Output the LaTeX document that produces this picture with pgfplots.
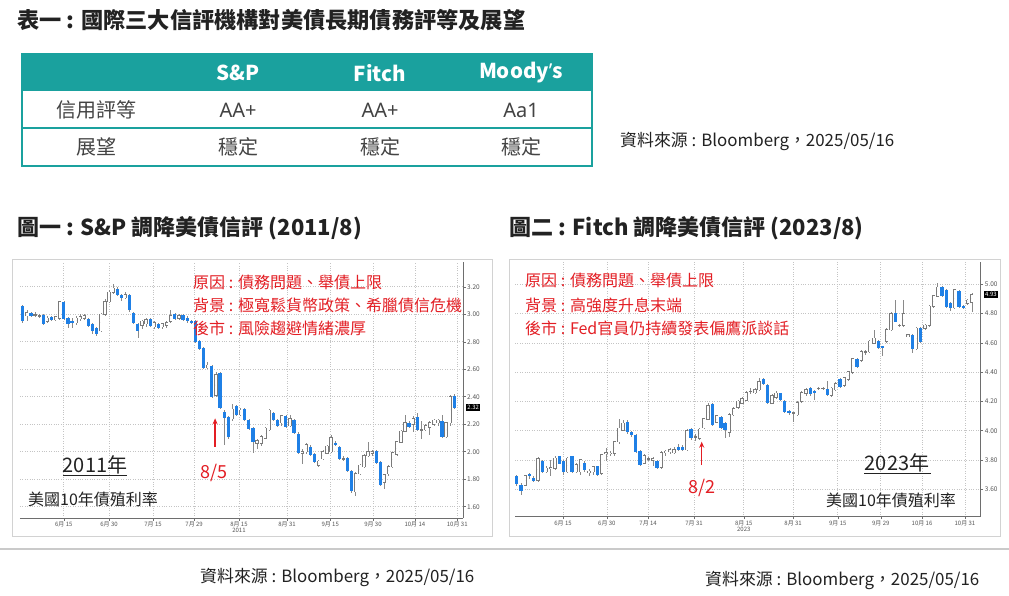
\documentclass[border=0pt]{standalone}
\usepackage{fontspec}
\setmainfont{Noto Sans CJK TC}
\newfontfamily\lat{Noto Sans}
\usepackage{pgfplots}
\usepackage{pgfplotstable}
\pgfplotsset{compat=1.18}
\usetikzlibrary{arrows.meta}
\definecolor{teal1}{HTML}{1AA19E}
\definecolor{candleblue}{HTML}{1F80E6}
\definecolor{wickgray}{HTML}{8A8A8A}
\definecolor{outlinegray}{HTML}{7A7A7A}
\definecolor{redtxt}{HTML}{E31E24}
\definecolor{framegray}{HTML}{D2D2D2}
\definecolor{sepgray}{HTML}{CACACA}
\definecolor{gridgray}{HTML}{C4C4C4}
\definecolor{axisgray}{HTML}{6E6E6E}
\definecolor{labelgray}{HTML}{555555}
\definecolor{txt}{HTML}{222222}

\pgfplotstableread{
x o h l c
0 3.06 3.07 2.94 2.95
1 2.99 3.03 2.95 3.01
2 3.01 3.02 2.98 2.99
3 2.995 3.02 2.98 2.995
4 2.99 3.00 2.97 2.99
5 2.99 3.00 2.92 2.93
6 2.95 2.99 2.94 2.97
7 2.98 2.99 2.95 2.96
8 2.96 2.99 2.95 2.98
9 2.97 3.10 2.96 3.09
10 3.09 3.10 2.96 2.97
11 2.97 2.98 2.90 2.93
12 2.95 2.97 2.90 2.94
13 2.94 2.99 2.92 2.97
14 2.97 3.00 2.95 2.98
15 2.97 3.00 2.96 2.99
16 2.96 2.97 2.91 2.92
17 2.93 2.94 2.86 2.88
18 2.90 2.91 2.84 2.86
19 2.88 3.01 2.87 3.00
20 3.00 3.11 2.99 3.09
21 3.09 3.18 3.08 3.16
22 3.16 3.22 3.15 3.19
23 3.18 3.20 3.13 3.14
24 3.14 3.15 3.10 3.12
25 3.12 3.16 3.11 3.14
26 3.14 3.15 3.02 3.03
27 3.01 3.02 2.93 2.94
28 2.93 2.94 2.83 2.88
29 2.92 2.96 2.89 2.95
30 2.93 2.97 2.91 2.96
31 2.96 2.97 2.91 2.92
32 2.91 2.95 2.89 2.94
33 2.93 2.94 2.89 2.90
34 2.91 2.94 2.89 2.93
35 2.92 2.95 2.90 2.94
36 2.95 3.03 2.94 2.99
37 3.00 3.01 2.96 2.97
38 2.97 3.00 2.96 2.99
39 2.99 3.00 2.95 2.96
40 2.97 2.99 2.94 2.95
41 2.95 2.96 2.93 2.94
42 2.95 2.96 2.79 2.80
43 2.80 2.81 2.74 2.75
44 2.75 2.76 2.60 2.61
45 2.61 2.65 2.60 2.63
46 2.62 2.63 2.39 2.40
47 2.41 2.58 2.40 2.56
48 2.57 2.58 2.31 2.32
49 2.29 2.30 2.05 2.25
50 2.25 2.26 2.09 2.11
51 2.24 2.35 2.22 2.31
52 2.33 2.34 2.26 2.27
53 2.27 2.32 2.26 2.30
54 2.31 2.32 2.22 2.23
55 2.23 2.24 2.16 2.17
56 2.17 2.18 1.99 2.07
57 2.06 2.09 2.02 2.08
58 2.06 2.12 2.04 2.11
59 2.10 2.18 2.09 2.17
60 2.16 2.31 2.15 2.30
61 2.28 2.29 2.22 2.23
62 2.23 2.24 2.18 2.19
63 2.21 2.27 2.19 2.26
64 2.26 2.27 2.17 2.18
65 2.19 2.27 2.18 2.24
66 2.23 2.24 2.13 2.14
67 2.13 2.14 1.98 1.99
68 1.99 2.02 1.91 2.00
69 2.00 2.06 1.98 2.05
70 2.03 2.05 1.97 1.98
71 1.98 1.99 1.92 1.93
72 1.90 1.94 1.89 1.93
73 1.95 2.01 1.94 2.00
74 1.99 2.05 1.98 2.04
75 2.00 2.12 1.99 2.10
76 2.06 2.08 2.04 2.05
77 2.03 2.04 1.94 1.95
78 1.95 1.97 1.93 1.95
79 1.95 1.96 1.85 1.86
80 1.86 1.87 1.70 1.72
81 1.71 1.85 1.68 1.84
82 1.84 1.91 1.83 1.90
83 1.89 1.98 1.88 1.97
84 1.97 2.07 1.96 2.00
85 1.99 2.01 1.97 2.00
86 2.00 2.01 1.91 1.92
87 1.92 1.93 1.75 1.76
88 1.78 1.84 1.73 1.83
89 1.84 1.90 1.82 1.89
90 1.89 2.00 1.88 1.99
91 1.98 2.08 1.97 2.07
92 2.07 2.16 2.06 2.15
93 2.15 2.27 2.14 2.21
94 2.21 2.22 2.17 2.18
95 2.20 2.26 2.14 2.24
96 2.25 2.28 2.15 2.16
97 2.16 2.22 2.09 2.16
98 2.16 2.20 2.15 2.19
99 2.18 2.22 2.12 2.21
100 2.20 2.24 2.19 2.23
101 2.21 2.24 2.19 2.23
102 2.22 2.27 2.10 2.11
103 2.11 2.21 2.10 2.21
104 2.21 2.41 2.19 2.40
105 2.40 2.42 2.31 2.32
}\candA

\pgfplotstableread{
x o h l c
0 3.69 3.70 3.62 3.64
1 3.63 3.64 3.56 3.59
2 3.63 3.70 3.62 3.69
3 3.70 3.71 3.67 3.69
4 3.675 3.69 3.65 3.656
5 3.663 3.82 3.65 3.81
6 3.79 3.80 3.71 3.72
7 3.72 3.76 3.71 3.743
8 3.743 3.80 3.69 3.745
9 3.743 3.83 3.73 3.811
10 3.823 3.83 3.77 3.777
11 3.788 3.80 3.70 3.72
12 3.72 3.82 3.71 3.811
13 3.823 3.83 3.71 3.72
14 3.72 3.78 3.71 3.766
15 3.72 3.81 3.70 3.80
16 3.777 3.79 3.72 3.732
17 3.72 3.74 3.69 3.722
18 3.72 3.76 3.70 3.754
19 3.754 3.76 3.69 3.70
20 3.709 3.84 3.70 3.834
21 3.845 3.88 3.79 3.847
22 3.845 3.86 3.83 3.846
23 3.845 3.93 3.83 3.925
24 3.925 4.08 3.91 4.016
25 4.005 4.07 4.00 4.05
26 4.06 4.07 3.98 3.99
27 3.99 4.00 3.96 3.97
28 3.97 3.98 3.85 3.86
29 3.86 3.87 3.76 3.77
30 3.78 3.84 3.77 3.83
31 3.81 3.82 3.79 3.81
32 3.80 3.82 3.76 3.81
33 3.79 3.80 3.74 3.75
34 3.75 3.86 3.74 3.85
35 3.85 3.87 3.83 3.86
36 3.86 3.88 3.84 3.87
37 3.85 3.89 3.84 3.87
38 3.89 3.91 3.86 3.87
39 3.89 3.90 3.86 3.87
40 3.87 4.01 3.86 4.00
41 4.01 4.02 3.94 3.95
42 3.96 3.98 3.93 3.96
43 3.95 4.02 3.94 4.01
44 4.02 4.09 4.01 4.08
45 4.08 4.19 4.07 4.17
46 4.18 4.19 4.03 4.04
47 4.06 4.11 4.05 4.10
48 4.09 4.10 4.01 4.02
49 4.05 4.06 3.95 4.01
50 3.99 4.12 3.96 4.11
51 4.11 4.16 4.10 4.15
52 4.16 4.21 4.15 4.20
53 4.19 4.23 4.18 4.22
54 4.21 4.27 4.20 4.26
55 4.27 4.29 4.25 4.27
56 4.26 4.29 4.25 4.28
57 4.28 4.36 4.27 4.335
58 4.35 4.36 4.31 4.32
59 4.31 4.32 4.18 4.19
60 4.19 4.25 4.18 4.24
61 4.23 4.27 4.22 4.255
62 4.255 4.26 4.20 4.21
63 4.20 4.21 4.12 4.13
64 4.13 4.14 4.11 4.12
65 4.12 4.125 4.06 4.12
66 4.11 4.20 4.10 4.19
67 4.20 4.27 4.19 4.26
68 4.255 4.29 4.24 4.28
69 4.29 4.30 4.24 4.255
70 4.27 4.28 4.21 4.265
71 4.29 4.30 4.28 4.29
72 4.29 4.30 4.28 4.29
73 4.28 4.34 4.24 4.245
74 4.245 4.30 4.23 4.29
75 4.28 4.33 4.27 4.32
76 4.35 4.36 4.29 4.30
77 4.31 4.37 4.30 4.36
78 4.35 4.41 4.34 4.40
79 4.40 4.50 4.39 4.49
80 4.49 4.50 4.43 4.44
81 4.48 4.55 4.47 4.54
82 4.54 4.55 4.52 4.54
83 4.54 4.62 4.53 4.61
84 4.60 4.69 4.59 4.63
85 4.61 4.62 4.56 4.57
86 4.575 4.58 4.51 4.57
87 4.61 4.70 4.60 4.69
88 4.69 4.81 4.68 4.80
89 4.80 4.89 4.74 4.745
90 4.72 4.73 4.71 4.72
91 4.72 4.89 4.71 4.80
92 4.645 4.66 4.64 4.655
93 4.65 4.66 4.53 4.56
94 4.56 4.71 4.55 4.70
95 4.70 4.71 4.60 4.61
96 4.70 4.73 4.69 4.72
97 4.72 4.86 4.71 4.85
98 4.85 4.93 4.84 4.92
99 4.92 5.01 4.91 4.98
100 4.98 4.99 4.91 4.92
101 4.96 4.97 4.84 4.85
102 4.87 4.88 4.82 4.84
103 4.84 4.97 4.83 4.96
104 4.95 4.96 4.84 4.85
105 4.85 4.86 4.83 4.845
106 4.87 4.90 4.86 4.89
107 4.88 4.94 4.81 4.93
}\candB

\pgfplotsset{
  bbg/.style={
    scale only axis, clip=false,
    axis x line*=bottom, axis y line*=right,
    axis line style={draw=axisgray, line width=0.6pt, -},
    tick style={draw=axisgray, line width=0.5pt},
    tick align=outside, major tick length=2.5pt,
    grid=major, grid style={dotted, draw=gridgray, line width=0.7pt},
    xticklabel style={font=\fontsize{6}{6}\selectfont, text=labelgray, inner sep=1pt},
    yticklabel style={font=\fontsize{6.5}{6.5}\selectfont, text=labelgray, inner sep=1.5pt},
    yticklabel={\pgfmathprintnumber[fixed,fixed zerofill,precision=2,assume math mode=true]{\tick}},
  },
  nomark/.style={only marks, mark=*, mark size=0pt, mark options={draw=none, fill=none}},
  wicks/.style={nomark,
    error bars/.cd, y dir=both, y explicit, error mark=none,
    error bar style={line width=0.55pt, draw=wickgray, solid}},
  upouter/.style={nomark,
    restrict expr to domain={\thisrow{c}-\thisrow{o}}{-0.00001:100},
    error bars/.cd, y dir=both, y explicit, error mark=none,
    error bar style={line width=3.3pt, draw=outlinegray, solid}},
  upinner/.style={nomark,
    restrict expr to domain={\thisrow{c}-\thisrow{o}}{-0.00001:100},
    error bars/.cd, y dir=both, y explicit, error mark=none,
    error bar style={line width=2.0pt, draw=white, solid}},
  down/.style={nomark,
    restrict expr to domain={\thisrow{c}-\thisrow{o}}{-100:-0.00001},
    error bars/.cd, y dir=both, y explicit, error mark=none,
    error bar style={line width=3.3pt, draw=candleblue, solid}},
}

\newcommand{\candles}[1]{%
  \addplot[wicks] table[x=x, y expr={(\thisrow{h}+\thisrow{l})/2}, y error expr={(\thisrow{h}-\thisrow{l})/2}] {#1};
  \addplot[upouter] table[x=x, y expr={(\thisrow{o}+\thisrow{c})/2}, y error expr={abs(\thisrow{c}-\thisrow{o})/2+0.0045}] {#1};
  \addplot[upinner] table[x=x, y expr={(\thisrow{o}+\thisrow{c})/2}, y error expr={abs(\thisrow{c}-\thisrow{o})/2}] {#1};
  \addplot[down] table[x=x, y expr={(\thisrow{o}+\thisrow{c})/2}, y error expr={abs(\thisrow{c}-\thisrow{o})/2+0.002}] {#1};
}

\begin{document}
\begin{tikzpicture}[x=1pt,y=1pt]
\useasboundingbox (0,0) rectangle (1009,-595);
\fill[white] (0,0) rectangle (1009,-595);

% ---- title
\node[anchor=west, inner sep=0, text=txt, font=\bfseries\fontsize{22.2}{22.2}\selectfont] at (17,-20) {表一 : 國際三大信評機構對美債長期債務評等及展望};

% ---- table
\fill[teal1] (22,-54) rectangle (592,-91);
\draw[teal1, line width=1.5pt] (22,-54) rectangle (592,-166);
\draw[teal1, line width=1.5pt] (22,-128) -- (592,-128);
\begin{scope}[every node/.style={inner sep=0, text=white, font=\bfseries\fontsize{20.5}{20.5}\selectfont}]
\node at (238,-73) {S\&P};
\node at (380,-73) {Fitch};
\node at (521,-73) {Moody{\lat\bfseries ’}s};
\end{scope}
\begin{scope}[every node/.style={inner sep=0, text=txt!85, font=\fontsize{20}{20}\selectfont}]
\node at (96,-110) {信用評等};
\node[font=\lat\fontsize{20}{20}\selectfont] at (238,-110) {AA+};
\node[font=\lat\fontsize{20}{20}\selectfont] at (380,-110) {AA+};
\node[font=\lat\fontsize{20}{20}\selectfont] at (521,-110) {Aa1};
\node at (96,-147) {展望};
\node at (238,-147) {穩定};
\node at (380,-147) {穩定};
\node at (521,-147) {穩定};
\end{scope}
\node[anchor=west, inner sep=0, text=txt, font=\fontsize{16.9}{16.9}\selectfont] at (620,-141) {資料來源 : Bloomberg，2025/05/16};

% ---- chart titles
\node[anchor=west, inner sep=0, text=txt, font=\bfseries\fontsize{22}{22}\selectfont] at (17,-228) {圖一 : S\&P 調降美債信評 (2011/8)};
\node[anchor=west, inner sep=0, text=txt, font=\bfseries\fontsize{22}{22}\selectfont] at (509,-228) {圖二 : Fitch 調降美債信評 (2023/8)};

% ---- frames
\draw[framegray, line width=1pt] (12,-259) rectangle (492,-536);
\draw[framegray, line width=1pt] (509,-259) rectangle (1000,-536);

% ---- chart 1
\begin{axis}[bbg, at={(20pt,-518pt)}, anchor=south west, width=443pt, height=256pt,
  xmin=-0.66, xmax=107.1, ymin=1.518, ymax=3.38,
  xtick={10.0,21.0,31.7,41.7,52.6,64.3,74.8,85.2,95.4,105.7},
  xticklabels={6月 15,6月 30,7月 15,7月 29,8月 15,8月 31,9月 15,9月 30,10月 14,10月 31},
  ytick={1.6,1.8,2.0,2.2,2.4,2.6,2.8,3.0,3.2}]
\candles{\candA}
\draw[redtxt, line width=1.3pt, -{Stealth[length=6pt,width=5pt]}] (axis cs:46.8,2.036) -- (axis cs:46.8,2.243);
\node[text=redtxt, font=\fontsize{18}{18}\selectfont, inner sep=0] at (axis cs:46.6,1.843) {8/5};
\node[fill=black, text=white, font=\fontsize{6}{6}\selectfont, inner sep=1.2pt, anchor=west] at (axis cs:107.1,2.32) [xshift=3pt] {2.32};
\node[text=labelgray, font=\fontsize{6}{6}\selectfont, inner sep=0] at (axis cs:52.6,1.518) [yshift=-12.5pt] {2011};
\end{axis}

% ---- chart 2
\begin{axis}[bbg, at={(515pt,-516.7pt)}, anchor=south west, width=465.7pt, height=254.7pt,
  xmin=-0.4, xmax=109.1, ymin=3.413, ymax=5.152,
  xtick={10.9,21.2,30.9,41.7,53.4,65.0,75.5,85.6,95.3,105.4},
  xticklabels={6月 15,6月 30,7月 14,7月 31,8月 15,8月 31,9月 15,9月 29,10月 16,10月 31},
  ytick={3.6,3.8,4.0,4.2,4.4,4.6,4.8,5.0}]
\candles{\candB}
\draw[redtxt, line width=1.3pt, -{Stealth[length=6pt,width=5pt]}] (axis cs:43.5,3.766) -- (axis cs:43.5,3.925);
\node[text=redtxt, font=\fontsize{18}{18}\selectfont, inner sep=0] at (axis cs:43.5,3.607) {8/2};
\node[fill=black, text=white, font=\fontsize{6}{6}\selectfont, inner sep=1.2pt, anchor=west] at (axis cs:109.1,4.93) [xshift=3pt] {4.93};
\node[text=labelgray, font=\fontsize{6}{6}\selectfont, inner sep=0] at (axis cs:53.4,3.413) [yshift=-12.5pt] {2023};
\end{axis}

% ---- chart texts
\begin{scope}[every node/.style={anchor=west, inner sep=0, text=redtxt, font=\fontsize{16}{16}\selectfont}]
\node at (193,-282) {原因 : 債務問題、舉債上限};
\node at (193,-305) {背景 : 極寬鬆貨幣政策、希臘債信危機};
\node at (193,-328.5) {後市 : 風險趨避情緒濃厚};
\node at (525,-280) {原因 : 債務問題、舉債上限};
\node at (525,-305) {背景 : 高強度升息末端};
\node at (525,-328.5) {後市 : Fed官員仍持續發表偏鷹派談話};
\end{scope}
\node[inner sep=0, text=txt, font=\fontsize{20}{20}\selectfont] at (95,-465) {2011年};
\draw[txt, line width=1pt] (63,-475) -- (127,-475);
\node[anchor=west, inner sep=0, text=txt, font=\fontsize{16}{16}\selectfont] at (28,-499) {美國10年債殖利率};
\node[inner sep=0, text=txt, font=\fontsize{20}{20}\selectfont] at (897,-463) {2023年};
\draw[txt, line width=1pt] (864,-473.5) -- (931,-473.5);
\node[anchor=west, inner sep=0, text=txt, font=\fontsize{16}{16}\selectfont] at (826,-500) {美國10年債殖利率};

% ---- separator and sources
\draw[sepgray, line width=2pt] (0,-549) -- (1009,-549);
\node[anchor=west, inner sep=0, text=txt, font=\fontsize{16.9}{16.9}\selectfont] at (200,-577) {資料來源 : Bloomberg，2025/05/16};
\node[anchor=west, inner sep=0, text=txt, font=\fontsize{16.9}{16.9}\selectfont] at (705,-580) {資料來源 : Bloomberg，2025/05/16};
\end{tikzpicture}
\end{document}
